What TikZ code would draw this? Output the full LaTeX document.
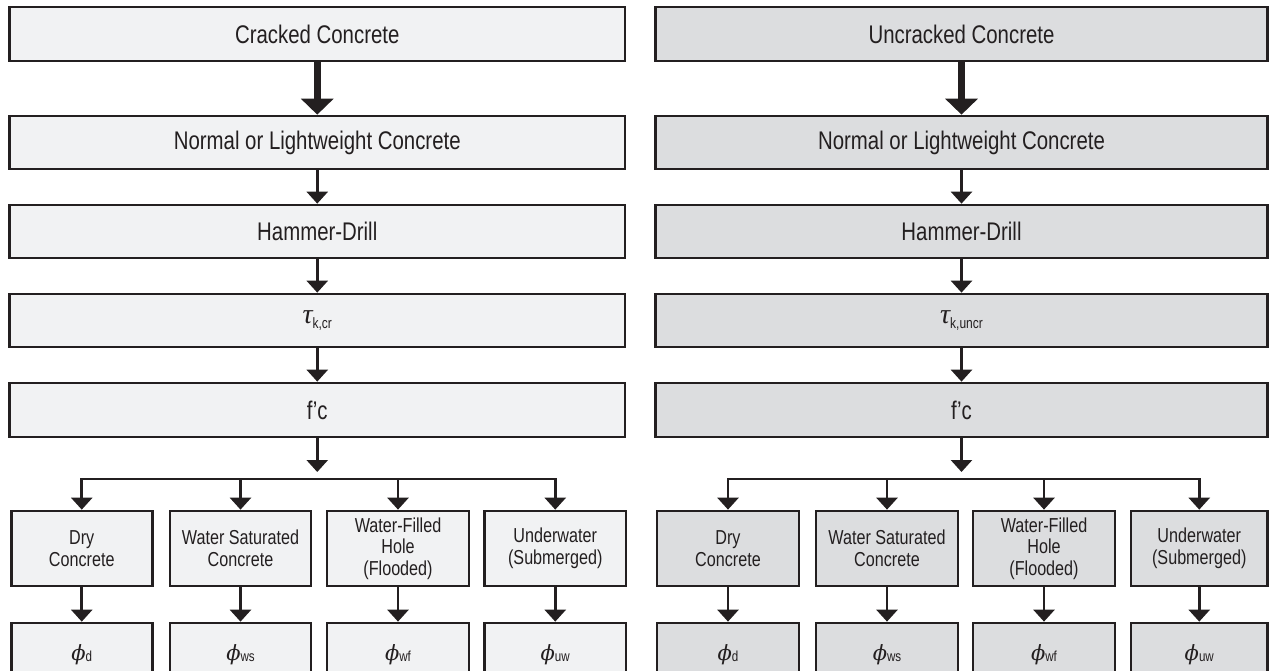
\documentclass[tikz,border=0pt]{standalone}
\usepackage{fontspec}
\setmainfont{Liberation Sans}[FakeStretch=0.80]
\newfontfamily\taufont{Liberation Serif}
\newfontfamily\phifont{DejaVu Serif}
\usetikzlibrary{arrows.meta}
\definecolor{fillL}{HTML}{F1F2F3}
\definecolor{fillR}{HTML}{DCDDDF}
\definecolor{lc}{HTML}{231F20}
\newcommand{\taulbl}[1]{{\taufont\itshape\fontsize{28}{30}\selectfont τ}\raisebox{-5pt}{\fontsize{15}{18}\selectfont #1}}
\newcommand{\philbl}[1]{{\phifont\itshape\fontsize{21}{24}\selectfont ϕ}\raisebox{-1pt}{\fontsize{14.5}{16}\selectfont #1}}
\tikzset{
  bx/.style={draw=lc, line width=2.7pt, rectangle, inner sep=0pt, align=center, text=lc},
  mainbx/.style={bx, font=\fontsize{25.5}{29}\selectfont},
  subbx/.style={bx, minimum height=75pt, font=\fontsize{20.2}{21.5}\selectfont},
  botbx/.style={bx, minimum height=64pt},
  lf/.style={fill=fillL},
  rf/.style={fill=fillR},
  arr/.style={draw=lc, line width=2.7pt, -{Triangle[width=21pt,length=12pt]}},
  thickarr/.style={draw=lc, line width=6.5pt, -{Triangle[width=32pt,length=16pt]}},
  ln/.style={draw=lc, line width=2.7pt, line cap=rect}
}
\begin{document}
\begin{tikzpicture}[x=1pt,y=-1pt]
\clip (0,0) rectangle (1269,671);
% ---------- left column ----------
\node[mainbx,lf,minimum width=615.5pt,minimum height=54pt] (L1) at (317.25,34) {Cracked Concrete};
\node[mainbx,lf,minimum width=615.5pt,minimum height=53pt] (L2) at (317.25,142.5) {Normal or Lightweight Concrete};
\node[mainbx,lf,minimum width=615.5pt,minimum height=53pt] (L3) at (317.25,231.5) {Hammer-Drill};
\node[mainbx,lf,minimum width=615.5pt,minimum height=53pt] (L4) at (317.25,320.5) {\taulbl{k,cr}};
\node[mainbx,lf,minimum width=615.5pt,minimum height=54pt] (L5) at (317.25,410) {f’c};
\node[subbx,lf,minimum width=141pt] (LD) at (81.75,548.5) {Dry\\Concrete};
\node[subbx,lf,minimum width=141pt] (LW) at (240.5,548.5) {Water Saturated\\Concrete};
\node[subbx,lf,minimum width=142pt] (LF) at (398,548.5) {Water-Filled\\Hole\\(Flooded)};
\node[subbx,lf,minimum width=141.5pt] (LU) at (555.25,548.5) {Underwater\\(Submerged)};
\node[botbx,lf,minimum width=141pt] (LDp) at (81.75,655) {\philbl{d}};
\node[botbx,lf,minimum width=141pt] (LWp) at (240.5,655) {\philbl{ws}};
\node[botbx,lf,minimum width=142pt] (LFp) at (398,655) {\philbl{wf}};
\node[botbx,lf,minimum width=141.5pt] (LUp) at (555.25,655) {\philbl{uw}};
\coordinate (Lfork) at (317.25,472);
\coordinate (LbD) at (81.75,479);
\coordinate (LbW) at (240.5,479);
\coordinate (LbF) at (398,479);
\coordinate (LbU) at (555.25,479);
\draw[thickarr] (L1) -- (L2);
\draw[arr] (L2) -- (L3);
\draw[arr] (L3) -- (L4);
\draw[arr] (L4) -- (L5);
\draw[arr] (L5) -- (Lfork);
\draw[ln] (LbD) -- (LbU);
\draw[arr] (LbD) -- (LD);
\draw[arr] (LbW) -- (LW);
\draw[arr] (LbF) -- (LF);
\draw[arr] (LbU) -- (LU);
\draw[arr] (LD) -- (LDp);
\draw[arr] (LW) -- (LWp);
\draw[arr] (LF) -- (LFp);
\draw[arr] (LU) -- (LUp);
% ---------- right column ----------
\node[mainbx,rf,minimum width=612pt,minimum height=54pt] (R1) at (961.5,34) {Uncracked Concrete};
\node[mainbx,rf,minimum width=612pt,minimum height=53pt] (R2) at (961.5,142.5) {Normal or Lightweight Concrete};
\node[mainbx,rf,minimum width=612pt,minimum height=53pt] (R3) at (961.5,231.5) {Hammer-Drill};
\node[mainbx,rf,minimum width=612pt,minimum height=53pt] (R4) at (961.5,320.5) {\taulbl{k,uncr}};
\node[mainbx,rf,minimum width=612pt,minimum height=54pt] (R5) at (961.5,410) {f’c};
\node[subbx,rf,minimum width=142pt] (RD) at (728,548.5) {Dry\\Concrete};
\node[subbx,rf,minimum width=142pt] (RW) at (887,548.5) {Water Saturated\\Concrete};
\node[subbx,rf,minimum width=142pt] (RF) at (1044,548.5) {Water-Filled\\Hole\\(Flooded)};
\node[subbx,rf,minimum width=136.5pt] (RU) at (1199.25,548.5) {Underwater\\(Submerged)};
\node[botbx,rf,minimum width=142pt] (RDp) at (728,655) {\philbl{d}};
\node[botbx,rf,minimum width=142pt] (RWp) at (887,655) {\philbl{ws}};
\node[botbx,rf,minimum width=142pt] (RFp) at (1044,655) {\philbl{wf}};
\node[botbx,rf,minimum width=136.5pt] (RUp) at (1199.25,655) {\philbl{uw}};
\coordinate (Rfork) at (961.5,472);
\coordinate (RbD) at (728,479);
\coordinate (RbW) at (887,479);
\coordinate (RbF) at (1044,479);
\coordinate (RbU) at (1199.25,479);
\draw[thickarr] (R1) -- (R2);
\draw[arr] (R2) -- (R3);
\draw[arr] (R3) -- (R4);
\draw[arr] (R4) -- (R5);
\draw[arr] (R5) -- (Rfork);
\draw[ln] (RbD) -- (RbU);
\draw[arr] (RbD) -- (RD);
\draw[arr] (RbW) -- (RW);
\draw[arr] (RbF) -- (RF);
\draw[arr] (RbU) -- (RU);
\draw[arr] (RD) -- (RDp);
\draw[arr] (RW) -- (RWp);
\draw[arr] (RF) -- (RFp);
\draw[arr] (RU) -- (RUp);
\end{tikzpicture}
\end{document}
